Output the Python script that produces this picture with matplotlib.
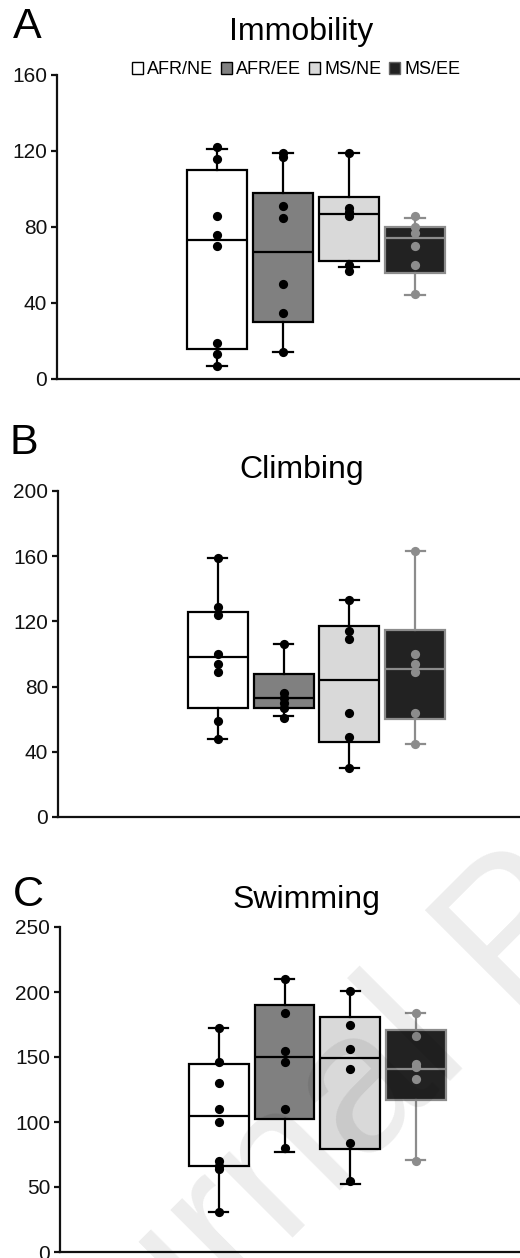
import matplotlib
matplotlib.use("Agg")
import matplotlib.pyplot as plt
import numpy as np
from matplotlib.patches import Patch

plt.rcParams["font.family"] = ["Liberation Sans", "DejaVu Sans"]

groups = ["AFR/NE", "AFR/EE", "MS/NE", "MS/EE"]
box_colors = ["#ffffff", "#808080", "#d9d9d9", "#222222"]
edge_colors = ["#000000", "#000000", "#000000", "#8c8c8c"]

# A - Immobility
immob_pts = [
    [122, 116, 86, 76, 70, 19, 13, 7],
    [119, 117, 91, 85, 50, 35, 14],
    [119, 90, 88, 86, 60, 57],
    [86, 80, 77, 70, 60, 45],
]
immob_lo = [7, 14, 59, 44]
immob_q1 = [16, 30, 62, 56]
immob_med = [73, 67, 87, 74]
immob_q3 = [110, 98, 96, 80]
immob_hi = [121, 119, 119, 85]

# B - Climbing
climb_pts = [
    [159, 129, 124, 100, 94, 89, 59, 48],
    [106, 76, 73, 70, 67, 61],
    [133, 114, 109, 64, 49, 30],
    [163, 100, 94, 89, 64, 45],
]
climb_lo = [48, 62, 30, 45]
climb_q1 = [67, 67, 46, 60]
climb_med = [98, 73, 84, 91]
climb_q3 = [126, 88, 117, 115]
climb_hi = [159, 106, 133, 163]

# C - Swimming
swim_pts = [
    [172, 146, 130, 110, 100, 70, 66, 64, 31],
    [210, 184, 155, 146, 110, 80],
    [201, 175, 156, 141, 84, 55],
    [184, 166, 145, 142, 133, 70],
]
swim_lo = [31, 77, 52, 71]
swim_q1 = [66, 102, 79, 117]
swim_med = [105, 150, 149, 141]
swim_q3 = [145, 190, 181, 171]
swim_hi = [172, 210, 201, 184]

W, H = 520, 1258
fig = plt.figure(figsize=(W / 100, H / 100), dpi=100)


def fx(px):
    return px / W


def fy(px):
    return 1 - px / H


def panel(rect, pts, lo, q1, med, q3, hi, ticks):
    ax = fig.add_axes(rect)
    stats = []
    for i in range(4):
        stats.append(dict(whislo=lo[i], q1=q1[i], med=med[i], q3=q3[i], whishi=hi[i]))
    pos = np.arange(1, 5)
    bp = ax.bxp(stats, positions=pos, widths=0.91, capwidths=0.29,
                showfliers=False, patch_artist=True)
    for i in range(4):
        bp["boxes"][i].set(facecolor=box_colors[i], edgecolor=edge_colors[i], linewidth=1.6)
        bp["medians"][i].set(color=edge_colors[i], linewidth=1.6)
        for k in (2 * i, 2 * i + 1):
            bp["whiskers"][k].set(color=edge_colors[i], linewidth=1.6)
            bp["caps"][k].set(color=edge_colors[i], linewidth=1.6)
        dot_col = "#000000" if i < 3 else "#8c8c8c"
        ax.scatter(np.full(len(pts[i]), pos[i]), pts[i], s=44, color=dot_col,
                   zorder=4, clip_on=False, linewidths=0)
    ax.set_xlim(-1.424, 5.59)
    ax.set_ylim(ticks[0], ticks[-1])
    ax.set_yticks(ticks)
    ax.set_xticks([])
    for s in ("top", "right"):
        ax.spines[s].set_visible(False)
    for s in ("left", "bottom"):
        ax.spines[s].set_linewidth(1.6)
        ax.spines[s].set_color("#111111")
    ax.tick_params(axis="y", length=4, width=1.6, pad=3, labelsize=15,
                   colors="#111111")
    ax.patch.set_alpha(0)
    return ax


panel([fx(57), fy(379), fx(463), 304 / H], immob_pts, immob_lo, immob_q1,
      immob_med, immob_q3, immob_hi, [0, 40, 80, 120, 160])
panel([fx(58), fy(817), fx(462), 326 / H], climb_pts, climb_lo, climb_q1,
      climb_med, climb_q3, climb_hi, [0, 40, 80, 120, 160, 200])
panel([fx(60), fy(1252), fx(460), 325 / H], swim_pts, swim_lo, swim_q1,
      swim_med, swim_q3, swim_hi, [0, 50, 100, 150, 200, 250])

# titles and panel letters
fig.text(fx(301), fy(32), "Immobility", ha="center", va="center", fontsize=23)
fig.text(fx(302), fy(470), "Climbing", ha="center", va="center", fontsize=23)
fig.text(fx(306), fy(900), "Swimming", ha="center", va="center", fontsize=23)
fig.text(fx(27), fy(27), "A", ha="center", va="center", fontsize=31)
fig.text(fx(24), fy(443), "B", ha="center", va="center", fontsize=31)
fig.text(fx(28), fy(895), "C", ha="center", va="center", fontsize=31)

handles = [Patch(facecolor=box_colors[i], edgecolor=edge_colors[i] if i < 3 else "#666666",
                 linewidth=1.0) for i in range(4)]
fig.legend(handles, groups, loc="center", bbox_to_anchor=(fx(296), fy(70)),
           ncol=4, frameon=False, fontsize=13, handlelength=0.65,
           handleheight=0.65, handletextpad=0.22, columnspacing=0.4,
           borderpad=0)

# journal watermark
fig.text(fx(8), fy(1522), "Journal Pre-proof", fontsize=144, rotation=45,
         rotation_mode="anchor", ha="left", va="baseline", color="black",
         alpha=0.075, zorder=10)

fig.savefig("out.png", dpi=100)
